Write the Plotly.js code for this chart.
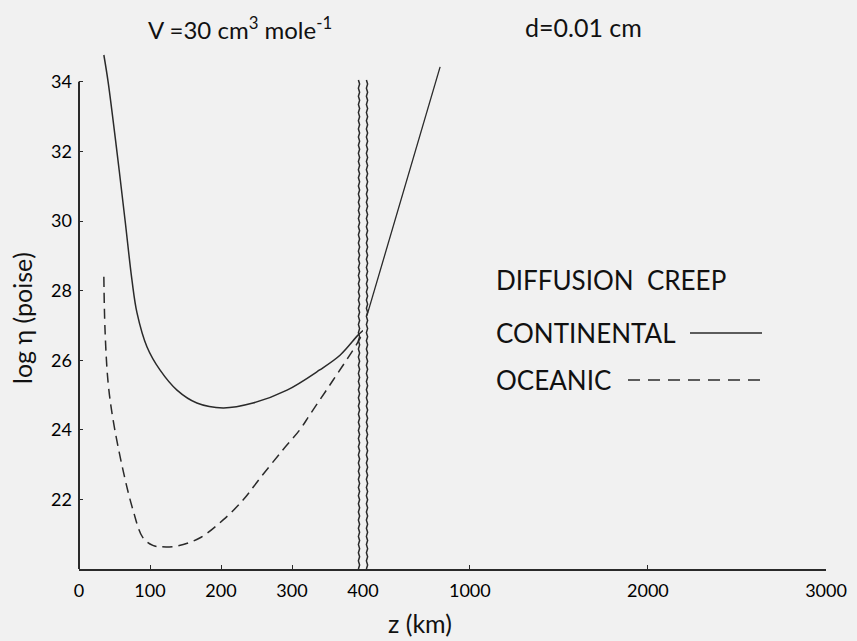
<!DOCTYPE html>
<html>
<head>
<meta charset="utf-8">
<script src="https://cdn.plot.ly/plotly-3.0.1.min.js"></script>
<style>html,body{margin:0;padding:0;background:#f1f1f1;}#chart{width:857px;height:641px;}</style>
</head>
<body>
<div id="chart"></div>
<script>
// Depth z (km) and log viscosity
const contZ = [35, 41, 53.5, 65, 74.6, 81.7, 95.8, 114, 138, 166, 203, 245, 293, 339, 368, 393, 400];
const contV = [34.77, 34.0, 31.98, 30.0, 28.3, 27.36, 26.38, 25.72, 25.14, 24.77, 24.63, 24.77, 25.14, 25.72, 26.15, 26.72, 26.85];
const oceZ = [35, 36.6, 40.8, 47.9, 62, 76, 90, 104, 114, 138, 170, 203, 231, 255, 287, 311, 325, 358, 392, 400];
const oceV = [28.4, 26.9, 25.4, 24.3, 22.84, 21.7, 20.9, 20.68, 20.64, 20.66, 20.89, 21.41, 21.98, 22.61, 23.42, 24.0, 24.43, 25.43, 26.49, 26.8];
const deepZ = [422, 833];
const deepV = [27.28, 34.43];
const yTicks = [22, 24, 26, 28, 30, 32, 34];
const xTicksUpper = [0, 100, 200, 300, 400];
const xTicksLower = [1000, 2000, 3000];

const W = 857, H = 641, L = 79, R = 31, T = 47, B = 72;
const pw = W - L - R, ph = H - T - B;
const px = x => (x - L) / pw;
const py = y => (H - B - y) / ph;
const split = px(363);
const ink = '#2a2a2a';
const font = 'Lato, "Open Sans", sans-serif';

const traces = [
  {x: contZ, y: contV, xaxis: 'x', yaxis: 'y', mode: 'lines', line: {color: ink, width: 1.5, shape: 'spline'}, hoverinfo: 'skip'},
  {x: oceZ, y: oceV, xaxis: 'x', yaxis: 'y', mode: 'lines', line: {color: ink, width: 1.5, dash: '10px,6px', shape: 'spline'}, hoverinfo: 'skip'},
  {x: deepZ, y: deepV, xaxis: 'x2', yaxis: 'y', mode: 'lines', line: {color: ink, width: 1.3}, hoverinfo: 'skip'}
];

function wavy(xp) {
  let d = '';
  const y0 = 0, y1 = py(80);
  const n = 120;
  for (let i = 0; i <= n; i++) {
    const yy = y0 + (y1 - y0) * i / n;
    const xx = xp + (i % 2 ? 0.6 : -0.6) / pw;
    d += (i === 0 ? 'M' : 'L') + xx.toFixed(5) + ',' + yy.toFixed(5);
  }
  return d;
}

const shapes = [
  {type: 'line', xref: 'paper', yref: 'y', x0: 0, x1: 0, y0: 20, y1: 34, line: {color: ink, width: 2}},
  {type: 'path', xref: 'paper', yref: 'paper', path: wavy(px(359)), line: {color: ink, width: 1.5}},
  {type: 'path', xref: 'paper', yref: 'paper', path: wavy(px(367)), line: {color: ink, width: 1.5}},
  {type: 'line', xref: 'paper', yref: 'paper', x0: px(690), x1: px(762), y0: py(333), y1: py(333), line: {color: ink, width: 1.5}},
  {type: 'line', xref: 'paper', yref: 'paper', x0: px(628), x1: px(762), y0: py(380), y1: py(380), line: {color: ink, width: 1.5, dash: '12px,8px'}}
];

const ann = (text, x, y, size, anchor, extra) => Object.assign({
  text: text, xref: 'paper', yref: 'paper', x: px(x), y: py(y), xanchor: anchor || 'center', yanchor: 'middle',
  showarrow: false, font: {family: font, size: size, color: '#111'}
}, extra || {});

const annotations = [
  ann('V =30 cm<sup>3</sup> mole<sup>-1</sup>', 240, 28, 24),
  ann('d=0.01 cm', 583, 27, 25),
  ann('DIFFUSION  CREEP', 494, 280, 26, 'left'),
  ann('CONTINENTAL', 494, 333, 26, 'left'),
  ann('OCEANIC', 494, 380, 26, 'left'),
  ann('log η (poise)', 22, 318, 25, 'center', {textangle: -90}),
  ann('z (km)', 420, 623, 25)
];

const tickFont = {family: font, size: 18, color: '#000'};
const layout = {
  width: W, height: H,
  margin: {l: L, r: R, t: T, b: B},
  paper_bgcolor: '#f1f1f1', plot_bgcolor: 'rgba(0,0,0,0)',
  showlegend: false,
  xaxis: {domain: [0, split], range: [0, 400], tickvals: xTicksUpper, ticktext: xTicksUpper.map(String),
          showgrid: false, zeroline: false, showline: true, linecolor: ink, linewidth: 2,
          ticks: 'inside', ticklen: 4, tickcolor: ink, tickfont: tickFont, ticklabelstandoff: 4},
  xaxis2: {domain: [split, 1], range: [400, 3000], tickvals: xTicksLower, ticktext: xTicksLower.map(String),
           showgrid: false, zeroline: false, showline: true, linecolor: ink, linewidth: 2, anchor: 'y',
           ticks: 'inside', ticklen: 4, tickcolor: ink, tickfont: tickFont, ticklabelstandoff: 4},
  yaxis: {range: [20, 35], tickvals: yTicks, ticktext: yTicks.map(String), showgrid: false, zeroline: false,
          showline: false, ticks: 'inside', ticklen: 4, tickcolor: ink, tickfont: tickFont, ticklabelstandoff: 6},
  shapes: shapes,
  annotations: annotations
};

Plotly.newPlot('chart', traces, layout, {displayModeBar: false, staticPlot: true});
</script>
</body>
</html>
